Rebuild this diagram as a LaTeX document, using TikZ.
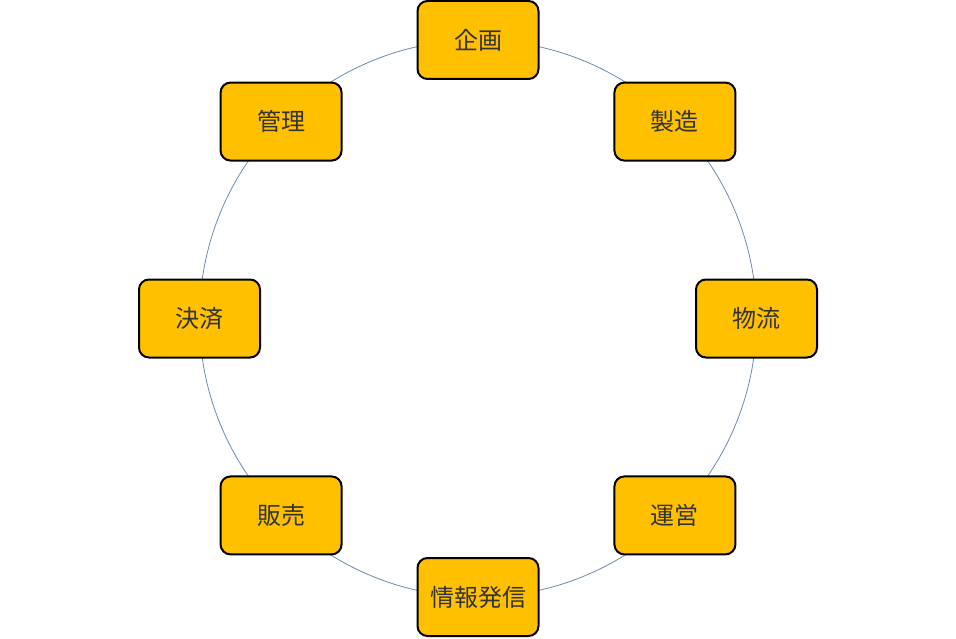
\documentclass[tikz,border=0pt]{standalone}
\usepackage{fontspec}
\setmainfont{Noto Sans CJK JP}
\usepackage{tikz}
\usetikzlibrary{calc}
\definecolor{boxgold}{RGB}{255,192,0}
\definecolor{ringline}{RGB}{110,138,172}

\begin{document}
\begin{tikzpicture}[x=1pt,y=-1pt,font=\fontsize{24}{28}\selectfont,
  stage/.style={draw=black,line width=2pt,fill=boxgold,rounded corners=10pt,
    minimum width=121pt,minimum height=78pt,inner sep=0pt,text=black!80}]
\useasboundingbox (0,0) rectangle (956,639);
\coordinate (center) at (478,318.5);
\draw[ringline,line width=0.8pt] (center) circle (278.5);
% y axis points down, so angles go clockwise
\foreach \name/\ang/\txt in {plan/-90/企画,make/-45/製造,ship/0/物流,run/45/運営,
  info/90/情報発信,sell/135/販売,pay/180/決済,admin/-135/管理} {
  \node[stage] (\name) at ($(center)+(\ang:278.5)$) {\txt};
}
\end{tikzpicture}
\end{document}
